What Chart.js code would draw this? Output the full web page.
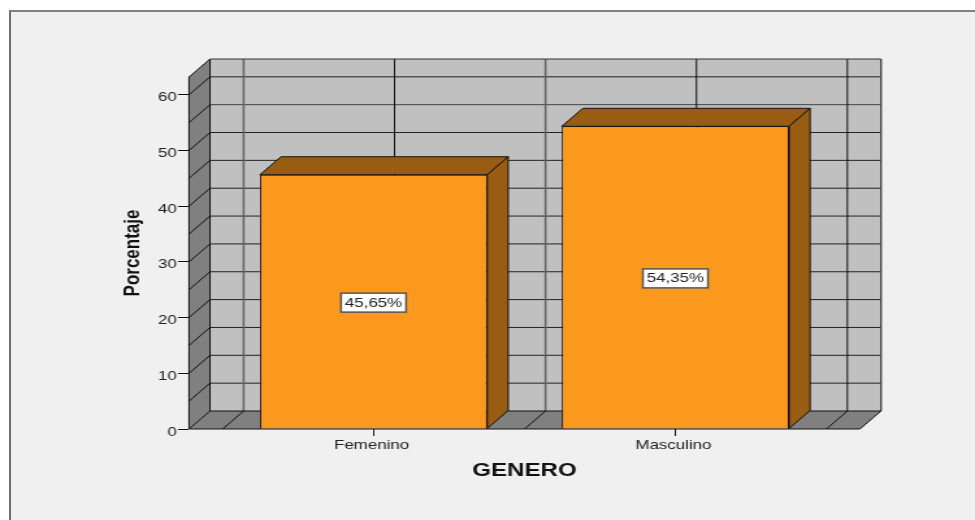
<!DOCTYPE html>
<html>
<head>
<meta charset="utf-8">
<script src="https://cdn.jsdelivr.net/npm/chart.js@4"></script>
<style>
html,body{margin:0;padding:0;background:#fff;width:975px;height:520px;overflow:hidden}
#panel{position:absolute;left:9px;top:10px;width:966px;height:510px;box-sizing:border-box;background:#f0f0f0;border-top:2px solid #808080;border-left:2px solid #707070}
#wrap{position:absolute;left:0;top:0;width:750px;height:520px;transform:scaleX(1.3);transform-origin:0 0}
canvas{display:block}
</style>
</head>
<body>
<div id="panel"></div>
<div id="wrap"><canvas id="c" width="750" height="520"></canvas></div>
<script>
const categories = ["Femenino", "Masculino"];
const percentages = [45.65, 54.35];
const valueLabels = ["45,65%", "54,35%"];
const yTicks = [0, 10, 20, 30, 40, 50, 60];
const yGridValues = [0, 5, 10, 15, 20, 25, 30, 35, 40, 45, 50, 55, 60];
const xGridValues = [-0.5, 0, 0.5, 1, 1.5];
const xTitle = "GENERO";
const yTitle = "Porcentaje";

const H = 1.3;               // horizontal stretch of the whole picture
const DX = 21 / H, DY = 18;  // depth of the 3-D box
const ORANGE = "#fb991f", BROWN = "#995c13", WALL = "#c0c0c0", SIDE = "#808080", INK = "#111111";

function poly(ctx, pts, fill, stroke, lw) {
  ctx.beginPath();
  pts.forEach((p, i) => i ? ctx.lineTo(p[0], p[1]) : ctx.moveTo(p[0], p[1]));
  ctx.closePath();
  if (fill) { ctx.fillStyle = fill; ctx.fill(); }
  if (stroke) { ctx.strokeStyle = stroke; ctx.lineWidth = lw || 1; ctx.stroke(); }
}
function seg(ctx, x1, y1, x2, y2, c, lw) {
  ctx.beginPath(); ctx.moveTo(x1, y1); ctx.lineTo(x2, y2);
  ctx.strokeStyle = c; ctx.lineWidth = lw || 1; ctx.stroke();
}

const box3d = {
  id: "box3d",
  beforeDatasetsDraw(chart) {
    const { ctx, chartArea: a, scales: { x, y } } = chart;
    ctx.save();
    const L = a.left, R = a.right, T = a.top, B = a.bottom;
    // back wall, left wall, floor
    poly(ctx, [[L + DX, T - DY], [R + DX, T - DY], [R + DX, B - DY], [L + DX, B - DY]], WALL);
    poly(ctx, [[L, B], [L + DX, B - DY], [L + DX, T - DY], [L, T]], SIDE);
    poly(ctx, [[L, B], [R, B], [R + DX, B - DY], [L + DX, B - DY]], SIDE);
    // horizontal grid
    yGridValues.forEach(v => {
      const py = y.getPixelForValue(v);
      const c = v === 60 ? "#555" : (v === 55 ? "#444" : "#222");
      seg(ctx, L, py, L + DX, py - DY, INK);
      if (v > 0) seg(ctx, L + DX, py - DY, R + DX, py - DY, c, v === 60 ? 1.6 : 1);
    });
    // vertical grid
    xGridValues.forEach(v => {
      const px = x.getPixelForValue(v);
      const half = Math.abs(v % 1) === 0.5;
      const gray = v === -0.5 || v === 0.5;
      seg(ctx, px + DX, T - DY, px + DX, B - DY, gray ? "#606060" : INK, gray ? 1.5 : 1);
      if (half) seg(ctx, px, B, px + DX, B - DY, INK);
    });
    // box outline
    seg(ctx, L + DX, T - DY, R + DX, T - DY, "#333");
    seg(ctx, L, T, L + DX, T - DY, INK);
    seg(ctx, L, T, L, B, INK);
    seg(ctx, L + DX, T - DY, L + DX, B - DY, INK);
    seg(ctx, R + DX, T - DY, R + DX, B - DY, "#444", 1.4);
    seg(ctx, L + DX, B - DY, R + DX, B - DY, INK);
    seg(ctx, R, B, R + DX, B - DY, INK);
    seg(ctx, L, B, R, B, INK);
    // bar depth faces
    chart.getDatasetMeta(0).data.forEach(b => {
      const l = b.x - b.width / 2, r = b.x + b.width / 2;
      poly(ctx, [[l, b.y], [r, b.y], [r + DX, b.y - DY], [l + DX, b.y - DY]], BROWN, INK);
      poly(ctx, [[r, b.y], [r + DX, b.y - DY], [r + DX, b.base - DY], [r, b.base]], BROWN, INK);
    });
    ctx.restore();
  },
  afterDatasetsDraw(chart) {
    const { ctx } = chart;
    ctx.save();
    ctx.font = "13px 'Liberation Sans'";
    ctx.textAlign = "center";
    ctx.textBaseline = "middle";
    chart.getDatasetMeta(0).data.forEach((b, i) => {
      const cy = (b.y + b.base) / 2 + 1;
      const bw = 50, bh = 19;
      ctx.fillStyle = "#fff";
      ctx.fillRect(b.x - bw / 2, cy - bh / 2, bw, bh);
      ctx.strokeStyle = "#555";
      ctx.lineWidth = 1.5;
      ctx.strokeRect(b.x - bw / 2, cy - bh / 2, bw, bh);
      ctx.fillStyle = "#222";
      ctx.fillText(valueLabels[i], b.x, cy + 0.5);
    });
    ctx.restore();
  }
};

new Chart(document.getElementById("c"), {
  type: "bar",
  plugins: [box3d],
  data: {
    datasets: [{
      data: percentages.map((v, i) => ({ x: i, y: v })),
      backgroundColor: ORANGE,
      borderColor: INK,
      borderWidth: 1,
      barPercentage: 0.753,
      categoryPercentage: 1
    }]
  },
  options: {
    responsive: false,
    animation: false,
    events: [],
    devicePixelRatio: 1,
    layout: { padding: { top: 77, right: 975 / H - 860 / H, bottom: 0, left: 0 } },
    plugins: { legend: { display: false }, tooltip: { enabled: false }, title: { display: false } },
    scales: {
      x: {
        type: "linear",
        offset: false,
        min: -0.6114,
        max: 1.6114,
        afterBuildTicks(s) { s.ticks = categories.map((_, i) => ({ value: i })); },
        afterFit(s) { s.height = 91; },
        ticks: {
          autoSkip: false, maxRotation: 0, padding: 2, labelOffset: -1.5,
          color: "#222", font: { family: "'Liberation Sans'", size: 13 },
          callback: v => categories[v]
        },
        grid: { display: true, offset: false, drawOnChartArea: false, drawTicks: true, tickLength: 7, color: INK, lineWidth: 1 },
        border: { display: false },
        title: { display: true, text: xTitle, color: "#111", font: { family: "'Liberation Sans'", size: 18.5, weight: "bold" }, padding: { top: 0, bottom: 38 } }
      },
      y: {
        type: "linear",
        min: 0,
        max: 63.2,
        afterBuildTicks(s) { s.ticks = yTicks.map(v => ({ value: v })); },
        afterFit(s) { s.width = 189 / H; },
        ticks: {
          padding: 1, labelOffset: 3, color: "#222", font: { family: "'Liberation Sans'", size: 13 }
        },
        grid: { display: true, drawOnChartArea: false, drawTicks: true, tickLength: 8.5, color: INK, lineWidth: 1 },
        border: { display: false },
        title: { display: true, text: yTitle, color: "#111", font: { family: "'Liberation Sans'", size: 17, weight: "bold" }, padding: { top: 92, bottom: 0 } }
      }
    }
  }
});
</script>
</body>
</html>
